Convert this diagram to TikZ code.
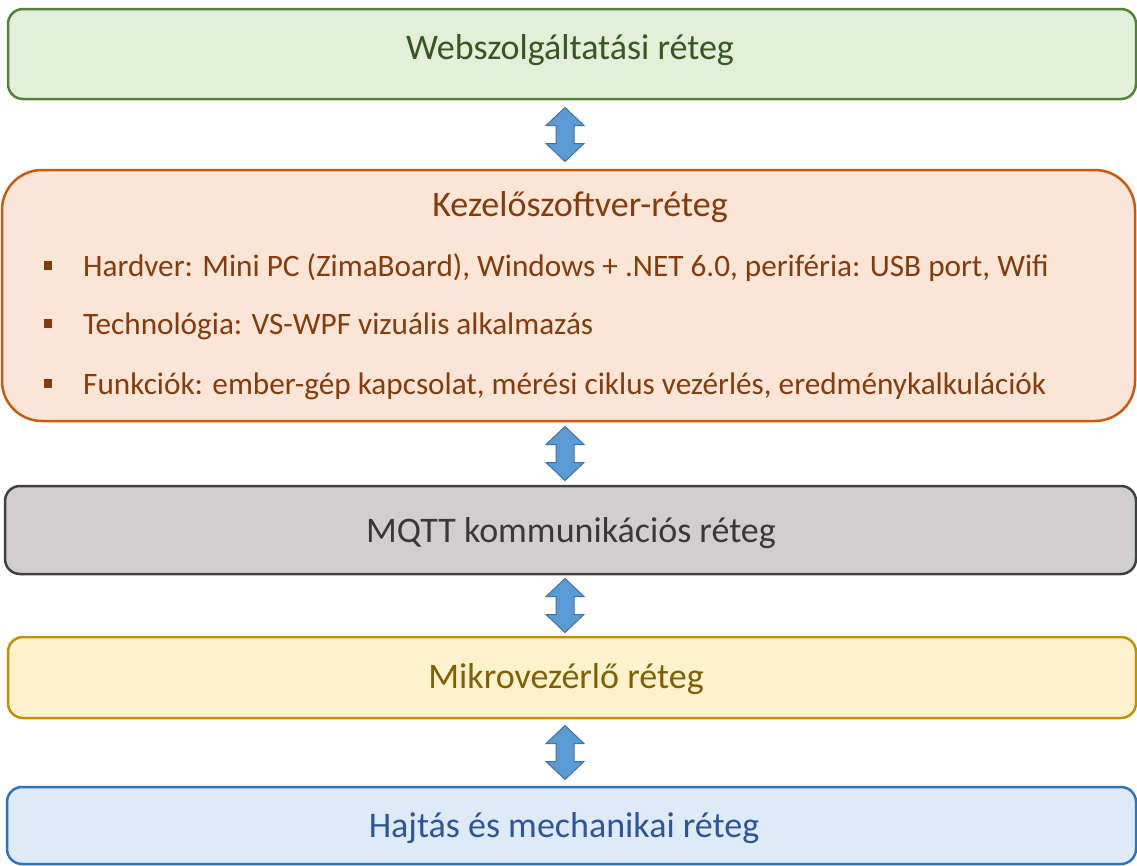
\documentclass[tikz,border=0pt]{standalone}
\usepackage{fontspec}
\setmainfont{Carlito}
\usetikzlibrary{calc}

\definecolor{webfill}{HTML}{E2EFDA}\definecolor{webline}{HTML}{548235}\definecolor{webtext}{HTML}{385723}
\definecolor{kezfill}{HTML}{FBE5D6}\definecolor{kezline}{HTML}{C55A11}\definecolor{keztext}{HTML}{843C0C}
\definecolor{mqfill}{HTML}{D0CECE}\definecolor{mqline}{HTML}{404040}\definecolor{mqtext}{HTML}{3B3838}
\definecolor{mkfill}{HTML}{FFF2CC}\definecolor{mkline}{HTML}{BF9000}\definecolor{mktext}{HTML}{7F6000}
\definecolor{hjfill}{HTML}{DEEBF7}\definecolor{hjline}{HTML}{2E75B6}\definecolor{hjtext}{HTML}{2F5597}
\definecolor{arrfill}{HTML}{5B9BD5}\definecolor{arrline}{HTML}{41719C}

\tikzset{
  layer/.style={draw, line width=2.5pt, rounded corners=15pt, inner sep=0pt},
  ttl/.style={font=\fontsize{36}{42}\selectfont, inner sep=0pt},
  item/.style={font=\fontsize{31.2}{36}\selectfont, text=keztext, inner sep=0pt, anchor=base west},
  sq/.style={fill=keztext, minimum width=8pt, minimum height=9pt, inner sep=0pt},
  blockarrow/.style={fill=arrfill, draw=arrline, line width=1pt, line join=miter},
  pics/updown/.style={code={
    \draw[blockarrow] (0,-27) -- (19,-9) -- (9,-9) -- (9,9) -- (19,9) -- (0,27)
      -- (-19,9) -- (-9,9) -- (-9,-9) -- (-19,-9) -- cycle;}}
}

\begin{document}
\begin{tikzpicture}[x=1pt,y=-1pt]
\useasboundingbox (0,0) rectangle (1137,865);

% layer boxes
\node[layer, fill=webfill, draw=webline, minimum width=1128pt, minimum height=90pt] (web) at (572,54) {};
\node[layer, fill=kezfill, draw=kezline, rounded corners=40pt, minimum width=1133pt, minimum height=251pt] (kez) at (568.5,295.5) {};
\node[layer, fill=mqfill, draw=mqline, minimum width=1131pt, minimum height=88pt] (mqtt) at (570.5,530) {};
\node[layer, fill=mkfill, draw=mkline, minimum width=1128pt, minimum height=81pt] (mik) at (572,677.5) {};
\node[layer, fill=hjfill, draw=hjline, minimum width=1129pt, minimum height=77pt] (hajt) at (571.5,825.5) {};

% layer titles
\node[ttl, text=webtext] (webt) at (570,50) {Webszolgáltatási réteg};
\node[ttl, text=keztext] (kezt) at (580,207) {Kezelőszoftver-réteg};
\node[ttl, text=mqtext] (mqttt) at (571,533.5) {MQTT kommunikációs réteg};
\node[ttl, text=mktext] (mikt) at (566,679) {Mikrovezérlő réteg};
\node[ttl, text=hjtext] (hajtt) at (564,828) {Hajtás és mechanikai réteg};

% bullet list of the control software layer
\node[sq] (s1) at (48,265.5) {};
\node[item] (b1) at (83,276) {Hardver: Mini PC (ZimaBoard), Windows + .NET 6.0, periféria: USB port, Wifi};
\node[sq] (s2) at (48,323.5) {};
\node[item] (b2) at (83,334) {Technológia: VS-WPF vizuális alkalmazás};
\node[sq] (s3) at (48,383.5) {};
\node[item] (b3) at (83,394) {Funkciók: ember-gép kapcsolat, mérési ciklus vezérlés, eredménykalkulációk};

% two-way block arrows between the layers
\coordinate (ax) at (565,0);
\coordinate (m1) at ($(web.south)!0.5!(kez.north)$);
\coordinate (m2) at ($(kez.south)!0.5!(mqtt.north)$);
\coordinate (m3) at ($(mqtt.south)!0.5!(mik.north)$);
\coordinate (m4) at ($(mik.south)!0.5!(hajt.north)$);
\pic at (ax |- m1) {updown};
\pic at (ax |- m2) {updown};
\pic at (ax |- m3) {updown};
\pic at (ax |- m4) {updown};
\end{tikzpicture}
\end{document}
